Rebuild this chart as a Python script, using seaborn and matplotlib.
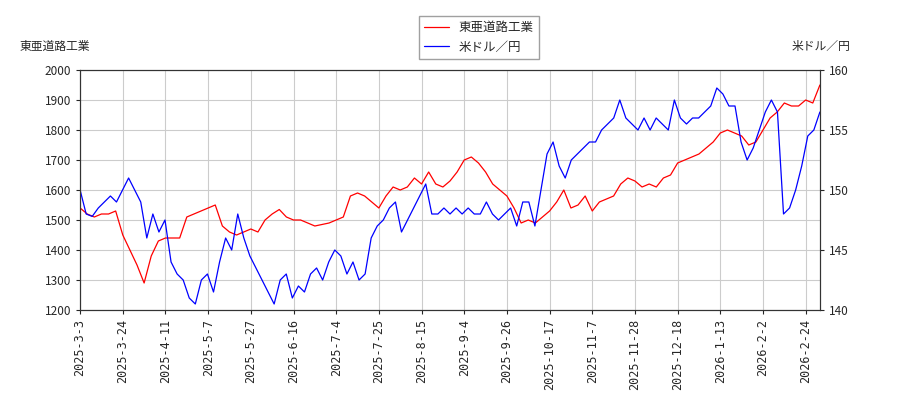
import numpy as np
import matplotlib
matplotlib.use("Agg")
import matplotlib.pyplot as plt
import seaborn as sns

sns.set_style("white")
plt.rcParams['font.family'] = ['Noto Sans CJK JP', 'DejaVu Sans']

tick_labels = ["2025-3-3","2025-3-24","2025-4-11","2025-5-7","2025-5-27","2025-6-16","2025-7-4",
               "2025-7-25","2025-8-15","2025-9-4","2025-9-26","2025-10-17","2025-11-7","2025-11-28",
               "2025-12-18","2026-1-13","2026-2-2","2026-2-24"]
stock = [1540,1520,1510,1520,1520,1530,1450,1400,1350,1290,1380,1430,1440,1440,1440,1510,1520,1530,
         1540,1550,1480,1460,1450,1460,1470,1460,1500,1520,1535,1510,1500,1500,1490,1480,1485,1490,
         1500,1510,1580,1590,1580,1560,1540,1580,1610,1600,1610,1640,1620,1660,1620,1610,1630,1660,
         1700,1710,1690,1660,1620,1600,1580,1540,1490,1500,1490,1510,1530,1560,1600,1540,1550,1580,
         1530,1560,1570,1580,1620,1640,1630,1610,1620,1610,1640,1650,1690,1700,1710,1720,1740,1760,
         1790,1800,1790,1780,1750,1760,1800,1840,1860,1890,1880,1880,1900,1890,1950]
usd = [150,148,147.8,148.5,149,149.5,149,150,151,150,149,146,148,146.5,147.5,144,143,142.5,141,140.5,
       142.5,143,141.5,144,146,145,148,146,144.5,143.5,142.5,141.5,140.5,142.5,143,141,142,141.5,143,
       143.5,142.5,144,145,144.5,143,144,142.5,143,146,147,147.5,148.5,149,146.5,147.5,148.5,149.5,
       150.5,148,148,148.5,148,148.5,148,148.5,148,148,149,148,147.5,148,148.5,147,149,149,147,150,
       153,154,152,151,152.5,153,153.5,154,154,155,155.5,156,157.5,156,155.5,155,156,155,156,155.5,
       155,157.5,156,155.5,156,156,156.5,157,158.5,158,157,157,154,152.5,153.5,155,156.5,157.5,156.5,
       148,148.5,150,152,154.5,155,156.5]

N = 261
xs_s = np.linspace(0, N-1, len(stock))
xs_u = np.linspace(0, N-1, len(usd))

fig = plt.figure(figsize=(9, 4), dpi=100)
ax = fig.add_axes([0.089, 0.225, 0.822, 0.6])
ax2 = ax.twinx()
sns.lineplot(x=xs_s, y=stock, ax=ax, color="red", lw=0.9, label="東亜道路工業", legend=False)
sns.lineplot(x=xs_u, y=usd, ax=ax2, color="blue", lw=0.9, label="米ドル／円", legend=False)
ax.set_xlim(0, N-1)
ax.set_ylim(1200, 2000)
ax2.set_ylim(140, 160)
ax.set_xticks(np.arange(len(tick_labels)) * 15)
ax.set_xticklabels(tick_labels, rotation=90, fontsize=7.5, family='DejaVu Sans Mono')
ax.set_yticks(range(1200, 2001, 100))
ax2.set_yticks(range(140, 161, 5))
ax.tick_params(labelsize=8.5, length=3, left=True, bottom=True)
ax2.tick_params(labelsize=8.5, length=3, right=True)
ax.grid(True, color="#cccccc", lw=0.8)
for a in (ax, ax2):
    for s in a.spines.values():
        s.set_color("#333333")
fig.text(0.022, 0.875, "東亜道路工業", fontsize=8.5)
fig.text(0.945, 0.875, "米ドル／円", fontsize=8.5, ha="right")
h1, l1 = ax.get_legend_handles_labels()
h2, l2 = ax2.get_legend_handles_labels()
fig.legend(h1 + h2, l1 + l2, loc="upper center", bbox_to_anchor=(0.532, 0.975), fontsize=9,
           fancybox=False, edgecolor="#888888")
fig.savefig("out.png")
